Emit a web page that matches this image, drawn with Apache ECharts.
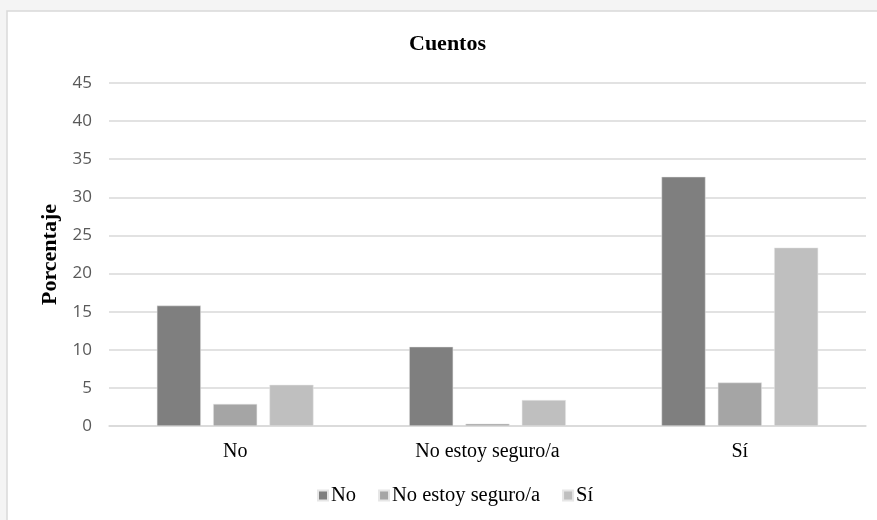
<!DOCTYPE html>
<html><head><meta charset="utf-8">
<script src="https://cdn.jsdelivr.net/npm/echarts@6/dist/echarts.min.js"></script>
<style>html,body{margin:0;padding:0;background:#f4f4f4;}#c{width:877px;height:520px;}</style>
</head><body><div id="c"></div>
<script>
const categories = ['No', 'No estoy seguro/a', 'Sí'];
const seriesNames = ['No', 'No estoy seguro/a', 'Sí'];
const valuesNo = [15.8, 10.4, 32.7];
const valuesNoSeguro = [2.9, 0.3, 5.7];
const valuesSi = [5.4, 3.4, 23.4];
const yTicks = [0, 5, 10, 15, 20, 25, 30, 35, 40, 45];
const colors = ['#7f7f7f', '#a5a5a5', '#bfbfbf'];
const serif = '"Liberation Serif", "DejaVu Serif", serif';
const allValues = [valuesNo, valuesNoSeguro, valuesSi];

const chart = echarts.init(document.getElementById('c'));
chart.setOption({
  animation: false,
  backgroundColor: 'transparent',
  graphic: [{
    type: 'rect', z: -10, silent: true,
    shape: { x: 7, y: 11, width: 880, height: 520 },
    style: { fill: '#ffffff', stroke: '#d9d9d9', lineWidth: 1.5 }
  }],
  title: {
    text: 'Cuentos', left: 404, top: 28,
    textStyle: { fontFamily: serif, fontWeight: 'bold', fontSize: 22, color: '#000' }
  },
  legend: {
    bottom: 9, left: 312, itemWidth: 10, itemHeight: 10, itemGap: 22,
    icon: 'rect',
    textStyle: { fontFamily: serif, fontSize: 20.5, color: '#000', padding: [0, 0, 0, -2] },
    data: seriesNames
  },
  grid: { left: 109, right: 11, top: 83, bottom: 94 },
  xAxis: {
    type: 'category', data: categories,
    axisLine: { lineStyle: { color: '#d9d9d9', width: 1.5 } },
    axisTick: { show: false },
    axisLabel: { fontFamily: serif, fontSize: 20, color: '#000', margin: 16 }
  },
  yAxis: {
    type: 'value', min: 0, max: 45, interval: 5,
    name: 'Porcentaje', nameLocation: 'middle', nameGap: 47,
    nameTextStyle: { fontFamily: serif, fontWeight: 'bold', fontSize: 22, color: '#000' },
    axisLabel: { fontFamily: '"Open Sans", "Liberation Sans", sans-serif', fontSize: 17, color: '#595959', margin: 17,
      formatter: v => yTicks.includes(v) ? String(v) : '' },
    splitLine: { lineStyle: { color: '#d9d9d9', width: 1.5 } },
    axisLine: { show: false }, axisTick: { show: false }
  },
  series: seriesNames.map((n, i) => ({
    name: n, type: 'bar', data: allValues[i],
    barWidth: 44, barGap: '28%',
    itemStyle: { color: colors[i], borderColor: '#e6e6e6', borderWidth: 0.5 }
  }))
});
</script></body></html>
